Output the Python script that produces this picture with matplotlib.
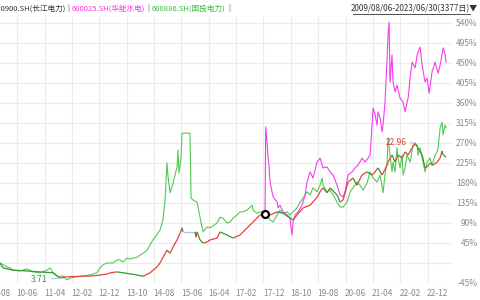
import numpy as np
import matplotlib
matplotlib.use("Agg")
import matplotlib.pyplot as plt
from matplotlib.collections import LineCollection
from matplotlib.lines import Line2D

plt.rcParams['font.family'] = ['Noto Sans CJK SC', 'DejaVu Sans']

# x = trading-day index since 2009/08/06, y = cumulative change in %
# 600900.SH 长江电力 (drawn with up/down colours)
cj_x = [0, 23, 98, 204, 303, 401, 455, 507, 606, 704, 757, 810, 833, 886, 931, 1037, 1083, 1136, 1188, 1211,
        1234, 1264, 1287, 1310, 1340, 1363, 1378, 1385, 1476, 1484, 1491, 1514, 1537, 1567, 1590, 1643, 1665, 1718, 1764, 1817,
        1870, 1915, 1968, 1991, 2044, 2097, 2142, 2195, 2218, 2248, 2294, 2347, 2400, 2422, 2445, 2475, 2498, 2551, 2574, 2597,
        2634, 2672, 2702, 2740, 2778, 2816, 2839, 2861, 2892, 2930, 2937, 2967, 2990, 3013, 3043, 3066, 3089, 3119, 3142, 3164,
        3195, 3217, 3232, 3255, 3278, 3308, 3331, 3346, 3354, 3376]
cj_y = [0, -11, -16, -18, -20, -22, -34, -31, -30, -29, -27, -25, -22, -20, -22, -27, -30, -22, -9, 0,
        13, 29, 22, 36, 52, 67, 79, 70, 70, 58, 70, 52, 45, 47, 52, 56, 70, 63, 56, 63,
        79, 92, 108, 110, 108, 115, 112, 101, 97, 108, 124, 130, 148, 160, 169, 158, 169, 153, 137, 142,
        182, 191, 175, 198, 205, 198, 205, 214, 198, 220, 227, 243, 227, 243, 236, 250, 243, 259, 270, 259,
        243, 214, 216, 225, 220, 227, 236, 252, 243, 238]
cj_min_label = "3.71"
cj_max_label = "22.96"

# 600025.SH 华能水电
hn_x = [2006, 2011, 2021, 2029, 2036, 2044, 2059, 2067, 2097, 2105, 2120, 2142, 2173, 2195, 2210, 2218, 2233, 2256, 2286, 2309,
        2324, 2347, 2369, 2400, 2422, 2445, 2475, 2498, 2521, 2551, 2574, 2597, 2612, 2634, 2665, 2687, 2710, 2740, 2763, 2786,
        2801, 2816, 2824, 2839, 2854, 2861, 2877, 2892, 2899, 2914, 2930, 2937, 2945, 2952, 2967, 2975, 2990, 3005, 3028, 3051,
        3066, 3081, 3089, 3104, 3119, 3142, 3157, 3179, 3195, 3217, 3232, 3248, 3270, 3293, 3316, 3331, 3354, 3369, 3376]
hn_y = [110, 306, 272, 236, 220, 182, 160, 149, 137, 124, 130, 115, 108, 101, 63, 92, 108, 115, 130, 153,
        182, 205, 191, 227, 236, 214, 216, 205, 198, 175, 153, 149, 160, 198, 205, 214, 220, 236, 227, 236,
        243, 310, 349, 333, 310, 340, 326, 295, 310, 362, 461, 513, 542, 407, 468, 407, 385, 400, 371, 362,
        340, 362, 371, 416, 452, 439, 468, 486, 445, 407, 416, 382, 430, 452, 427, 445, 484, 468, 452]

# 600886.SH 国投电力
gd_x = [0, 23, 53, 76, 98, 151, 204, 250, 303, 356, 379, 401, 439, 477, 507, 530, 583, 628, 681, 734,
        757, 780, 810, 833, 855, 886, 908, 931, 961, 984, 1037, 1083, 1113, 1158, 1211, 1234, 1249, 1264, 1272, 1287,
        1310, 1340, 1347, 1355, 1370, 1378, 1438, 1446, 1461, 1491, 1499, 1522, 1537, 1567, 1590, 1643, 1665, 1688, 1718, 1741,
        1764, 1794, 1817, 1840, 1870, 1908, 1915, 1945, 1968, 1991, 2021, 2044, 2067, 2097, 2120, 2142, 2173, 2195, 2218, 2248,
        2271, 2294, 2324, 2347, 2369, 2400, 2422, 2438, 2445, 2475, 2498, 2521, 2551, 2574, 2597, 2627, 2650, 2672, 2702, 2725,
        2748, 2778, 2801, 2824, 2854, 2877, 2899, 2914, 2930, 2937, 2952, 2967, 2975, 2990, 3005, 3013, 3028, 3043, 3051, 3066,
        3081, 3104, 3126, 3157, 3164, 3179, 3202, 3217, 3232, 3255, 3270, 3293, 3308, 3316, 3331, 3346, 3354, 3369, 3376]
gd_y = [0, -4, -9, -11, -16, -18, -13, -20, -22, -16, -11, -22, -31, -29, -38, -34, -31, -29, -27, -22,
        -11, -4, 0, 0, 0, 7, 7, 2, 11, 9, 13, 22, 29, 52, 74, 97, 142, 225, 194, 158,
        180, 216, 254, 202, 238, 292, 292, 146, 142, 137, 126, 90, 70, 81, 79, 90, 103, 101, 90, 92,
        101, 108, 115, 115, 119, 130, 119, 112, 115, 115, 108, 97, 92, 108, 119, 112, 115, 108, 115, 124,
        137, 146, 160, 153, 169, 160, 175, 191, 175, 160, 164, 153, 137, 126, 126, 137, 160, 169, 182, 175,
        164, 180, 205, 191, 182, 198, 158, 198, 227, 281, 243, 205, 227, 205, 259, 236, 214, 243, 198, 214,
        243, 227, 265, 265, 243, 259, 227, 205, 227, 236, 220, 243, 250, 259, 304, 317, 288, 310, 304]

month_labels = ['09-08', '10-06', '11-04', '12-02', '12-12', '13-10', '14-08', '15-06', '16-04',
                '17-02', '17-12', '18-10', '19-08', '20-06', '21-04', '22-02', '22-12']
label_step = 207
grid_start = 131
y_ticks = list(range(-45, 541, 45))

fig = plt.figure(figsize=(4.8, 3.0), dpi=100)
ax = fig.add_axes([0, 17 / 300, 452 / 480, 266.7 / 300])
ax.set_xlim(0, 3421)
ax.set_ylim(-45, 555)

# grid
ax.set_xticks([i * label_step for i in range(len(month_labels))])
ax.set_xticklabels(month_labels)
ax.set_xticks([grid_start + i * label_step for i in range(16)], minor=True)
ax.set_yticks(y_ticks)
ax.set_yticklabels(['' if v == 0 else f'{v}%' for v in y_ticks])
ax.grid(which='minor', axis='x', color='#ececec', lw=0.8)
ax.grid(which='major', axis='y', color='#ececec', lw=0.8)
ax.yaxis.tick_right()
ax.tick_params(which='both', length=0)
ax.tick_params(axis='x', pad=4, labelsize=6, labelcolor='#8a8a8a')
ax.tick_params(axis='y', pad=18.5, labelsize=6, labelcolor='#8a8a8a')
for lab in ax.get_yticklabels():
    lab.set_ha('right')
for s in ax.spines.values():
    s.set_visible(False)

# series
ax.plot(gd_x, gd_y, color='#55c755', lw=0.8, zorder=2)
ax.plot(hn_x, hn_y, color='#f73cf0', lw=0.8, zorder=2)

pts = np.column_stack([cj_x, cj_y])
segs = np.stack([pts[:-1], pts[1:]], axis=1)
d = np.diff(cj_y)
cols = ['#9ec5e8' if v == 0 else ('#e0453a' if v > 0 else '#2c9a2c') for v in d]
ax.add_collection(LineCollection(segs, colors=cols, linewidths=0.9, zorder=3))

ax.plot(hn_x[0], hn_y[0], 'o', mfc='white', mec='black', ms=5, mew=1.6, zorder=5)

imin = int(np.argmin(cj_y))
imax = int(np.argmax(cj_y))
ax.annotate(cj_min_label, xy=(cj_x[imin], cj_y[imin]), xytext=(-9, -1), textcoords='offset points',
            ha='right', va='center', fontsize=6, color='#2e9e4a',
            arrowprops=dict(arrowstyle='-', color='#9ec5e8', lw=0.8, shrinkA=1, shrinkB=0))
ax.annotate(cj_max_label, xy=(cj_x[imax], cj_y[imax]), xytext=(-6, 0), textcoords='offset points',
            ha='right', va='center', fontsize=6, color='#e0453a',
            arrowprops=dict(arrowstyle='-', color='#9ec5e8', lw=0.8, shrinkA=1, shrinkB=0))

# header
ty = 1 - 8.5 / 300
hs = 5.5
fig.text(66 / 480, ty, '600900.SH(长江电力)', ha='right', va='center', fontsize=hs, color='#333333')
fig.text(68.5 / 480, ty, '|', ha='center', va='center', fontsize=hs, color='#555555')
fig.text(72 / 480, ty, '600025.SH(华能水电)', ha='left', va='center', fontsize=hs, color='#ff33dd')
fig.text(148 / 480, ty, '|', ha='center', va='center', fontsize=hs, color='#555555')
fig.text(152 / 480, ty, '600886.SH(国投电力)', ha='left', va='center', fontsize=hs, color='#3cb83c')
fig.text(229 / 480, ty, '|', ha='center', va='center', fontsize=hs, color='#555555')
fig.text(478 / 480, ty, '2009/08/06-2023/06/30(3377日)▼', ha='right', va='center', fontsize=5.8, color='#333333')
fig.add_artist(Line2D([353 / 480, 470 / 480], [1 - 14 / 300, 1 - 14 / 300], color='#333333', lw=0.6))

fig.savefig('out.png', dpi=100)
